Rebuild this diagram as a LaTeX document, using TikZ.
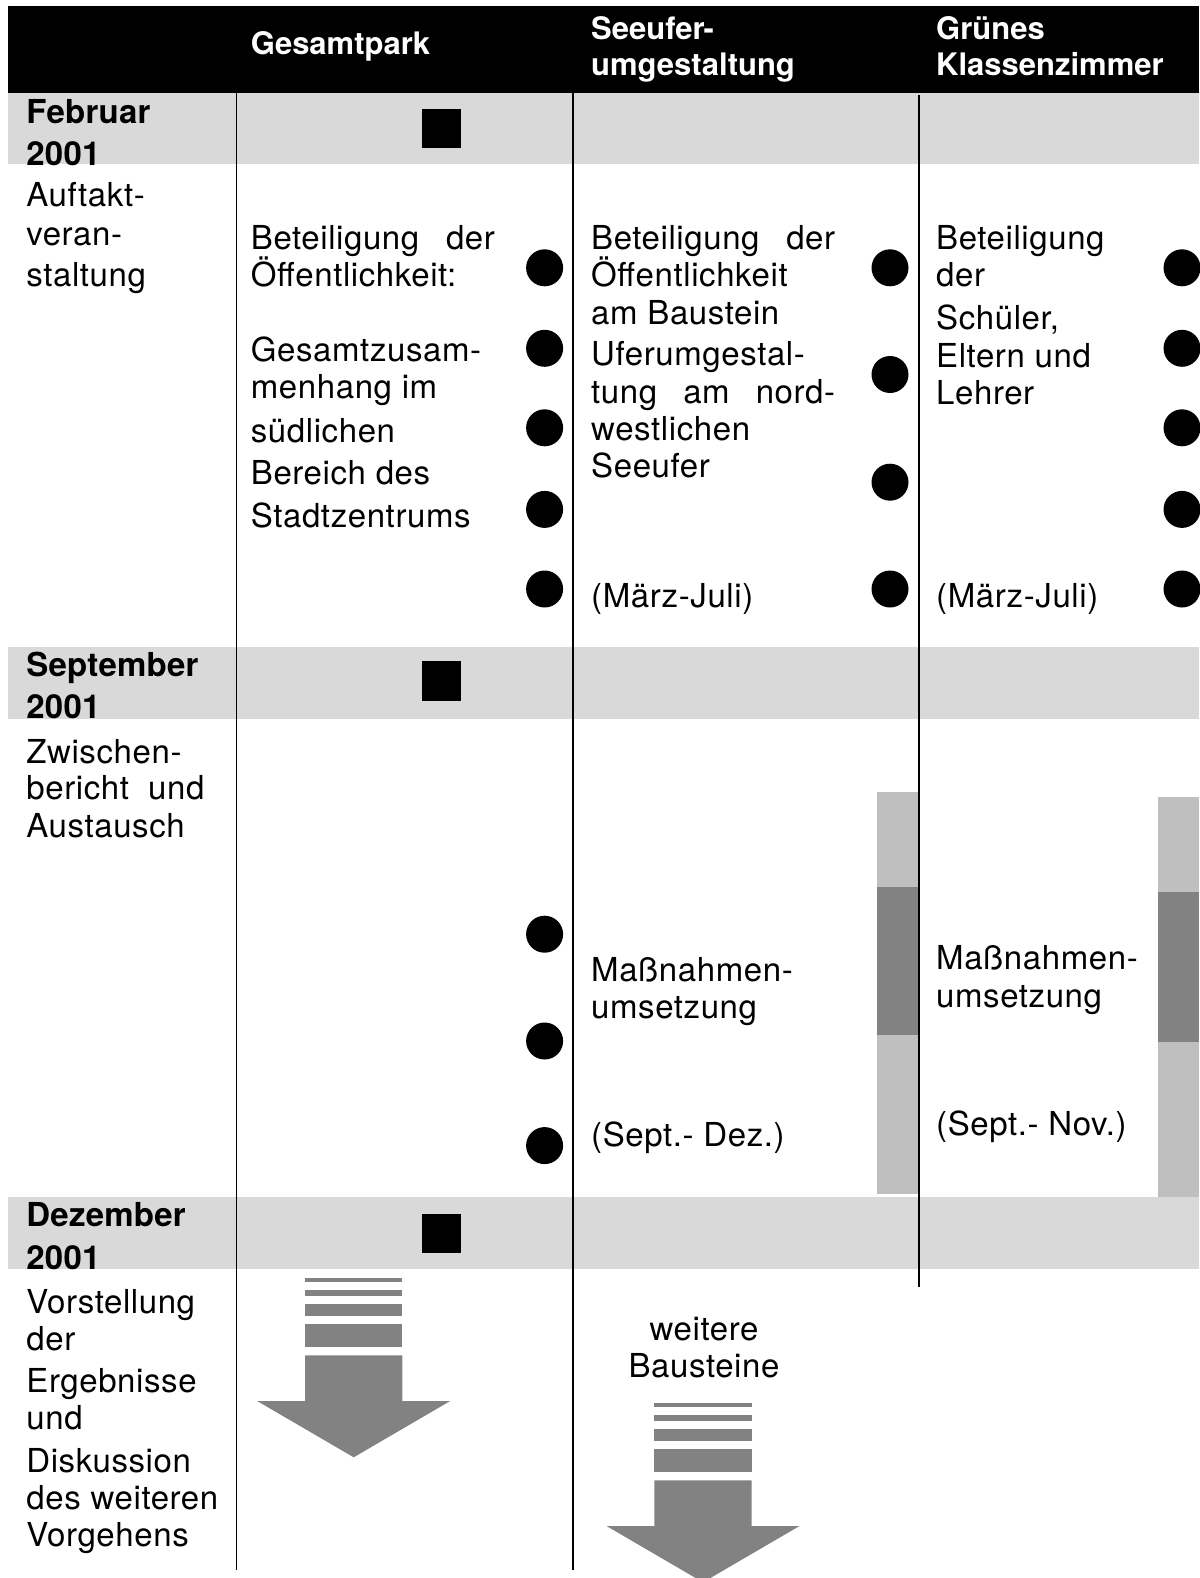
\documentclass[tikz,border=0pt]{standalone}
\usepackage{fontspec}
\setmainfont{TeX Gyre Heros}
\newfontfamily\bodyfont{TeX Gyre Heros}[LetterSpace=1.8]
\newfontfamily\datefont{TeX Gyre Heros}[LetterSpace=0.7]
\definecolor{bandgray}{gray}{0.85}
\definecolor{barlight}{gray}{0.75}
\definecolor{bardark}{gray}{0.51}
\definecolor{arrowgray}{gray}{0.51}
\tikzset{
  txt/.style={anchor=base west, inner sep=0pt, font=\bodyfont\fontsize{33}{40}\selectfont},
  hdr/.style={anchor=base west, inner sep=0pt, text=white, font=\fontsize{31}{38}\selectfont\bfseries},
  datum/.style={anchor=base west, inner sep=0pt, font=\datefont\fontsize{33}{40}\selectfont\bfseries},
  rule/.style={line width=1.5pt},
}

\begin{document}
\begin{tikzpicture}[x=1pt, y=-1pt]
  \useasboundingbox (0,0) rectangle (1199,1578);
  % header and month bands
  \fill[black] (8,6) rectangle (1199,92.6);
  \foreach \y in {92.6, 647, 1197}
    \fill[bandgray] (8,\y) rectangle (1199,\y+71.5);
  % duration bars
  \fill[barlight] (877.3,791.7) rectangle (919,1194);
  \fill[bardark] (877.3,886.7) rectangle (919,1035);
  \fill[barlight] (1158,796.7) rectangle (1199,1196.7);
  \fill[bardark] (1158,892) rectangle (1199,1041.7);
  % column rules
  \draw[rule] (236.6,92.6) -- (236.6,1570);
  \draw[rule] (572.8,92.6) -- (572.8,1570);
  \draw[rule] (919,95) -- (919,1286.6);
  % milestones
  \foreach \y in {108.7, 661.4, 1214}
    \fill (421.8,\y) rectangle ++(39.3,39.3);
  \foreach \x/\y in {544.6/267.8, 544.6/348.3, 544.6/427.8, 544.6/509.4, 544.6/589,
                     544.6/934.2, 544.6/1041, 544.6/1145.6,
                     890/267.8, 890/374.5, 890/482.2, 890/589,
                     1182/267.8, 1182/348.3, 1182/427.8, 1182/509.4, 1182/589}
    \fill (\x,\y) circle (18.5pt);
  % header
  \node[hdr] (gesamt) at (250.7,54.5) {Gesamtpark};
  \node[hdr] (seeufer) at (591,40) {Seeufer-};
  \node[hdr] (seeufer2) at (591,75.5) {umgestaltung};
  \node[hdr] (gruen) at (936,40) {Grünes};
  \node[hdr] (gruen2) at (936,75.5) {Klassenzimmer};
  % dates
  \foreach \y/\t [count=\i] in {123.8/Februar, 166/2001, 676/September, 718/2001, 1226/Dezember, 1269/2001}
    \node[datum] (datum\i) at (26.2,\y) {\t};
  % left column
  \foreach \y/\t [count=\i] in {207/{Auftakt-}, 246/{veran-}, 287/{staltung},
      763/{Zwischen-}, 799/{\makebox[178pt][s]{bericht und}}, 837/{Austausch},
      1313/{Vorstellung}, 1350/{der}, 1392/{Ergebnisse}, 1429/{und},
      1472/{Diskussion}, 1509/{des weiteren}, 1546/{Vorgehens}}
    \node[txt] (phase\i) at (26.2,\y) {\t};
  % Gesamtpark
  \foreach \y/\t [count=\i] in {250/{\makebox[244pt][s]{Beteiligung der}}, 287/{Öffentlichkeit:},
      361/{Gesamtzusam-}, 398/{menhang im}, 442/{südlichen}, 484/{Bereich des}, 527/{Stadtzentrums}}
    \node[txt] (gp\i) at (250.7,\y) {\t};
  % Seeuferumgestaltung
  \foreach \y/\t [count=\i] in {250/{\makebox[244pt][s]{Beteiligung der}}, 287/{Öffentlichkeit},
      324/{am Baustein}, 365/{Uferumgestal-}, 403/{\makebox[244pt][s]{tung am nord-}},
      440/{westlichen}, 477/{Seeufer}, 607/{(März-Juli)},
      981/{Maßnahmen-}, 1018/{umsetzung}, 1146/{(Sept.- Dez.)}}
    \node[txt] (su\i) at (591,\y) {\t};
  % Gruenes Klassenzimmer
  \foreach \y/\t [count=\i] in {250/{Beteiligung}, 287/{der}, 330/{Schüler,}, 367/{Eltern und},
      404/{Lehrer}, 607/{(März-Juli)},
      969/{Maßnahmen-}, 1007/{umsetzung}, 1135/{(Sept.- Nov.)}}
    \node[txt] (gk\i) at (936,\y) {\t};
  \node[txt, anchor=base] (weitere) at (704,1340) {weitere};
  \node[txt, anchor=base] (bausteine) at (704,1377) {Bausteine};
  % outlook arrows
  \foreach \ax/\ay in {353.7/1278.3, 703/1403.3}
  {
    \begin{scope}[shift={(\ax,\ay)}, arrowgray]
      \fill (-48.7,0) rectangle (48.7,3.4);
      \fill (-48.7,11.7) rectangle (48.7,17.4);
      \fill (-48.7,25.7) rectangle (48.7,37.4);
      \fill (-48.7,45.7) rectangle (48.7,68.4);
      \fill (-48.7,77) -- (48.7,77) -- (48.7,122.7) -- (96.5,122.7) -- (0,179)
        -- (-96.5,122.7) -- (-48.7,122.7) -- cycle;
    \end{scope}
  }
\end{tikzpicture}
\end{document}
